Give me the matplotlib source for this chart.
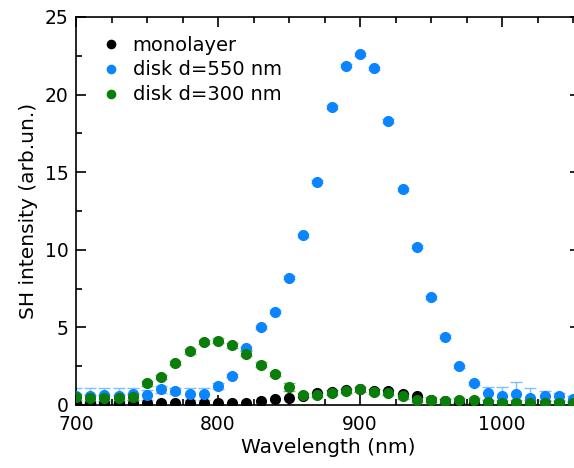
import numpy as np
import matplotlib.pyplot as plt
from matplotlib.ticker import MultipleLocator

# --- Data ---
wavelength = np.arange(700, 1060, 10)

monolayer = [0.1, 0.1, 0.1, 0.1, 0.1, 0.1, 0.1, 0.1, 0.1, 0.1,
             0.1, 0.1, 0.1, 0.25, 0.4, 0.45, 0.6, 0.75, 0.85, 0.95,
             1.05, 0.9, 0.9, 0.7, 0.6, 0.35, 0.25, 0.2, 0.1, 0.1,
             0.1, 0.1, 0.1, 0.1, 0.1, 0.1]

disk550 = [0.6, 0.6, 0.65, 0.6, 0.7, 0.65, 1.0, 0.9, 0.7, 0.7,
           1.2, 1.9, 3.65, 5.0, 6.0, 8.2, 10.95, 14.4, 19.2, 21.85,
           22.6, 21.7, 18.3, 13.9, 10.2, 6.95, 4.4, 2.5, 1.4, 0.75,
           0.55, 0.7, 0.45, 0.6, 0.55, 0.4]
disk550_err = [0.5, 0.5, 0.45, 0.5, 0.4, 0.3, 0.2, 0.2, 0.4, 0.4,
               0.2, 0.1, 0.1, 0.1, 0.1, 0.1, 0.1, 0.1, 0.1, 0.1,
               0.1, 0.1, 0.1, 0.1, 0.1, 0.1, 0.1, 0.1, 0.1, 0.4,
               0.6, 0.75, 0.65, 0.3, 0.2, 0.2]

disk300 = [0.5, 0.45, 0.45, 0.45, 0.5, 1.4, 1.8, 2.7, 3.45, 4.05,
           4.15, 3.85, 3.3, 2.6, 2.0, 1.15, 0.65, 0.65, 0.8, 0.9,
           1.0, 0.85, 0.8, 0.55, 0.35, 0.35, 0.25, 0.3, 0.3, 0.2,
           0.15, 0.15, 0.15, 0.1, 0.1, 0.1]
disk300_err = [0.2, 0.2, 0.2, 0.2, 0.2, 0.15, 0.15, 0.15, 0.15, 0.15,
               0.15, 0.15, 0.15, 0.15, 0.15, 0.25, 0.15, 0.15, 0.15, 0.15,
               0.15, 0.15, 0.15, 0.15, 0.15, 0.15, 0.15, 0.15, 0.15, 0.15,
               0.15, 0.15, 0.15, 0.15, 0.15, 0.15]

labels = ["monolayer", "disk d=550 nm", "disk d=300 nm"]
colors = ["black", "#0a84ff", "#0a7d0a"]
err_colors = ["black", "#7fbfff", "#7fc07f"]

# --- Plot ---
W, H = 574, 468
fig = plt.figure(figsize=(W / 100, H / 100), dpi=100)
left_px, right_px, top_px, bottom_px = 76, 580, 17, 405
ax = fig.add_axes([left_px / W, 1 - bottom_px / H,
                   (right_px - left_px) / W, (bottom_px - top_px) / H])

series = [(monolayer, None), (disk550, disk550_err), (disk300, disk300_err)]
for (vals, err), lab, c, ec in zip(series, labels, colors, err_colors):
    if err is not None:
        ax.errorbar(wavelength, vals, yerr=err, fmt="none", ecolor=ec,
                    elinewidth=1, capsize=4, capthick=1, zorder=2)
    ax.plot(wavelength, vals, "o", color=c, markersize=7, label=lab,
            zorder=3)

px_per_nm = 142 / 100
ax.set_xlim(700, 700 + (right_px - left_px) / px_per_nm)
ax.set_ylim(0, 25)

ax.xaxis.set_major_locator(MultipleLocator(100))
ax.xaxis.set_minor_locator(MultipleLocator(25))
ax.yaxis.set_major_locator(MultipleLocator(5))
ax.yaxis.set_minor_locator(MultipleLocator(2.5))
ax.tick_params(which="both", direction="in", top=True, right=True,
               labelsize=13.5, width=1.2)
ax.tick_params(which="major", length=7)
ax.tick_params(which="minor", length=4)
ax.tick_params(axis="x", pad=7)
ax.tick_params(axis="y", pad=5.5)
for s in ax.spines.values():
    s.set_linewidth(1.2)

ax.set_xlabel("Wavelength (nm)", fontsize=14.5, labelpad=3)
ax.set_ylabel("SH intensity (arb.un.)", fontsize=14.5, labelpad=5)

ax.legend(loc="upper left", frameon=False, fontsize=14, handletextpad=0.6,
          labelspacing=0.3, markerscale=0.85, handlelength=1.0,
          borderaxespad=0, bbox_to_anchor=(0.035, 0.972))

fig.savefig("out.png", dpi=100)
